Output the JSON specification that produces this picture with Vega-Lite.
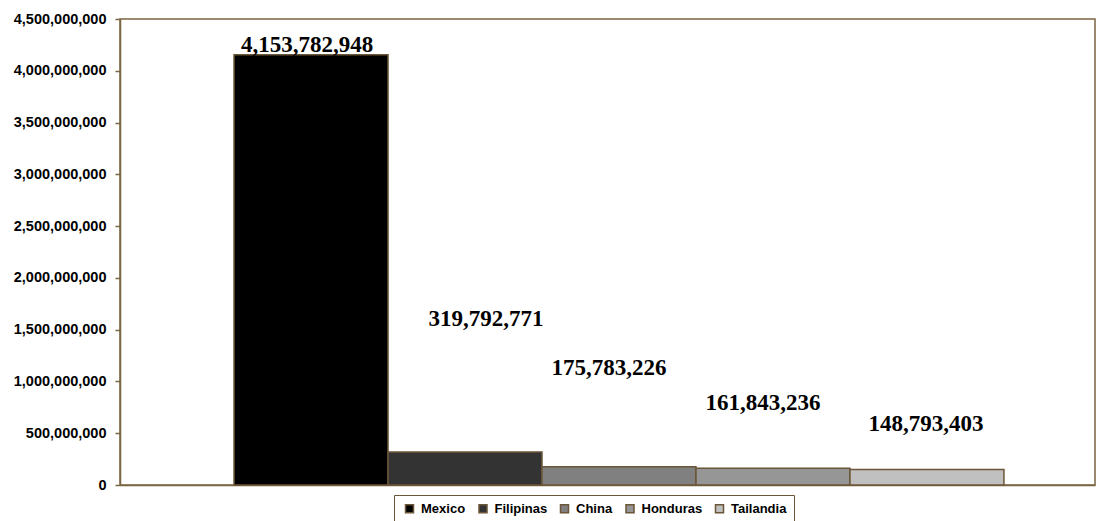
{
  "$schema": "https://vega.github.io/schema/vega-lite/v6.json",
  "width": 975,
  "height": 466,
  "autosize": "none",
  "padding": {"left": 120, "top": 19, "right": 7, "bottom": 36},
  "background": "white",
  "config": {
    "view": {"stroke": "#7a6642", "strokeWidth": 1.5},
    "axis": {"grid": false}
  },
  "data": {
    "values": [
      {"pais": "Mexico", "valor": 4153782948},
      {"pais": "Filipinas", "valor": 319792771},
      {"pais": "China", "valor": 175783226},
      {"pais": "Honduras", "valor": 161843236},
      {"pais": "Tailandia", "valor": 148793403}
    ]
  },
  "encoding": {
    "x": {
      "field": "pais",
      "type": "nominal",
      "sort": ["Mexico", "Filipinas", "China", "Honduras", "Tailandia"],
      "scale": {"paddingInner": 0, "paddingOuter": 0.666, "align": 0.556},
      "axis": {"labels": false, "ticks": false, "title": null, "domainColor": "#7a6642", "domainWidth": 1.5}
    },
    "y": {
      "field": "valor",
      "type": "quantitative",
      "scale": {"domain": [0, 4500000000], "nice": false},
      "axis": {
        "values": [0, 500000000, 1000000000, 1500000000, 2000000000, 2500000000, 3000000000, 3500000000, 4000000000, 4500000000],
        "format": ",.0f",
        "title": null,
        "labelFont": "Liberation Sans",
        "labelFontWeight": "bold",
        "labelFontSize": 14.5,
        "labelColor": "#000000",
        "labelPadding": 9,
        "tickColor": "#7a6642",
        "tickSize": 5,
        "tickWidth": 1.5,
        "domainColor": "#7a6642",
        "domainWidth": 1.5
      }
    }
  },
  "layer": [
    {
      "mark": {"type": "bar", "stroke": "#6b5638", "strokeWidth": 1.5},
      "encoding": {
        "color": {
          "field": "pais",
          "type": "nominal",
          "sort": ["Mexico", "Filipinas", "China", "Honduras", "Tailandia"],
          "scale": {"domain": ["Mexico", "Filipinas", "China", "Honduras", "Tailandia"], "range": ["#000000", "#333333", "#808080", "#969696", "#c0c0c0"]},
          "legend": {
            "title": null,
            "orient": "none",
            "legendX": 274,
            "legendY": 476,
            "direction": "horizontal",
            "columns": 5,
            "symbolType": "square",
            "symbolSize": 64,
            "symbolStrokeColor": "#6b5638",
            "symbolStrokeWidth": 1.5,
            "labelFont": "Liberation Sans",
            "labelFontWeight": "bold",
            "labelFontSize": 13,
            "labelColor": "#000000",
            "columnPadding": 8.5,
            "symbolOffset": 2,
            "labelOffset": 5,
            "strokeColor": "#6b5638",
            "padding": 7
          }
        }
      }
    },
    {
      "transform": [{"filter": "datum.pais === 'Mexico'"}],
      "mark": {"type": "text", "font": "Liberation Serif", "fontWeight": "bold", "fontSize": 23, "baseline": "alphabetic", "dx": -4, "dy": -3, "color": "#000000"},
      "encoding": {"text": {"field": "valor", "type": "quantitative", "format": ",.0f"}}
    },
    {
      "transform": [{"filter": "datum.pais === 'Filipinas'"}],
      "mark": {"type": "text", "font": "Liberation Serif", "fontWeight": "bold", "fontSize": 23, "baseline": "alphabetic", "dx": 21, "dy": -126, "color": "#000000"},
      "encoding": {"text": {"field": "valor", "type": "quantitative", "format": ",.0f"}}
    },
    {
      "transform": [{"filter": "datum.pais === 'China'"}],
      "mark": {"type": "text", "font": "Liberation Serif", "fontWeight": "bold", "fontSize": 23, "baseline": "alphabetic", "dx": -10, "dy": -92, "color": "#000000"},
      "encoding": {"text": {"field": "valor", "type": "quantitative", "format": ",.0f"}}
    },
    {
      "transform": [{"filter": "datum.pais === 'Honduras'"}],
      "mark": {"type": "text", "font": "Liberation Serif", "fontWeight": "bold", "fontSize": 23, "baseline": "alphabetic", "dx": -10, "dy": -58, "color": "#000000"},
      "encoding": {"text": {"field": "valor", "type": "quantitative", "format": ",.0f"}}
    },
    {
      "transform": [{"filter": "datum.pais === 'Tailandia'"}],
      "mark": {"type": "text", "font": "Liberation Serif", "fontWeight": "bold", "fontSize": 23, "baseline": "alphabetic", "dx": -1, "dy": -39, "color": "#000000"},
      "encoding": {"text": {"field": "valor", "type": "quantitative", "format": ",.0f"}}
    }
  ]
}
